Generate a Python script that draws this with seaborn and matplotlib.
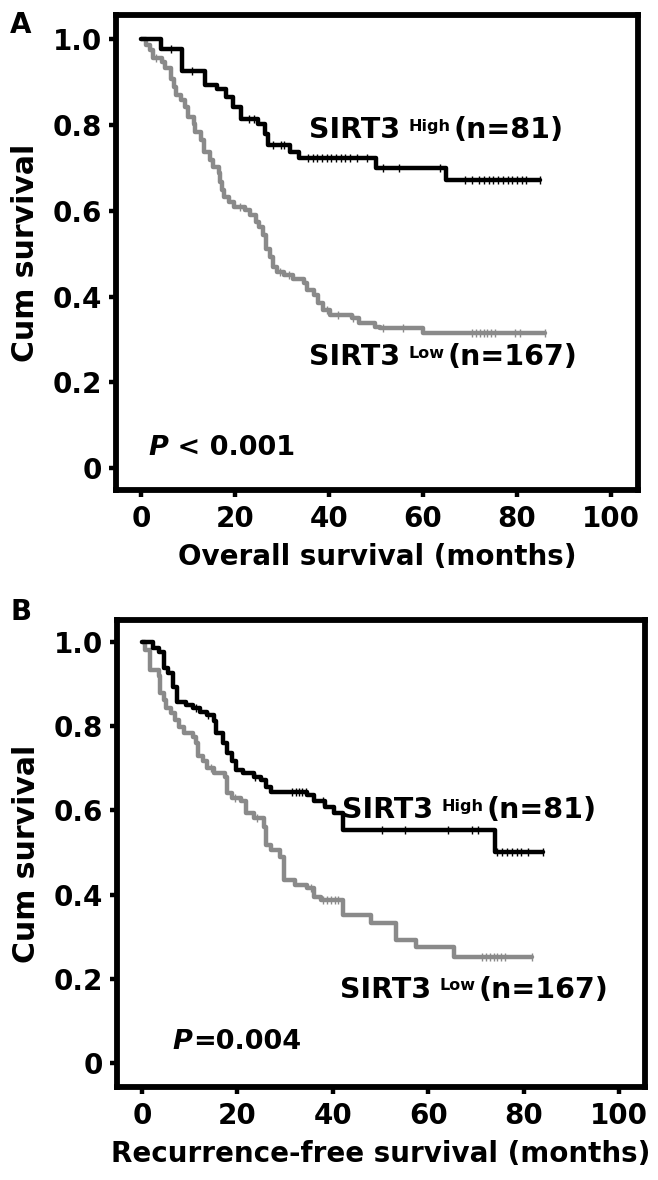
import matplotlib
matplotlib.use("Agg")
import matplotlib.pyplot as plt
import seaborn as sns
import numpy as np

# ---- panel A: overall survival ----
os_high_t = [0, 4.3, 8.7, 13.6, 16.2, 18.1, 19.5, 21.2, 25.0, 26.5, 27.0, 31.8, 33.6, 50.0, 65.0, 85.0]
os_high_s = [1.0, 0.976, 0.925, 0.893, 0.883, 0.866, 0.842, 0.815, 0.803, 0.780, 0.753, 0.737, 0.722, 0.699, 0.671, 0.671]
os_high_cens = [6.4, 10.9, 23.0, 24.0, 28.2, 29.7, 30.5, 35.5, 36.5, 37.5, 38.5, 39.5, 40.5, 41.5, 42.5,
                43.5, 44.5, 46.0, 48.0, 51.6, 55.0, 63.7, 69.0, 70.5, 72.0, 73.0, 74.0, 75.0, 76.0, 77.0,
                78.0, 79.0, 80.0, 81.0, 82.0, 84.8]

os_low_t = [0, 1.1, 1.9, 2.6, 4.5, 5.2, 6.4, 7.1, 7.5, 8.6, 9.4, 10.1, 11.3, 11.6, 12.8, 13.5, 14.7, 15.4,
            16.6, 16.9, 17.3, 17.7, 18.8, 19.9, 22.2, 23.3, 24.5, 25.2, 25.9, 26.7, 27.5, 28.2, 29.0, 30.5,
            32.4, 34.6, 35.4, 36.9, 37.7, 38.8, 40.3, 44.8, 46.3, 49.7, 50.9, 59.9, 85.9]
os_low_s = [1.0, 0.986, 0.974, 0.955, 0.947, 0.932, 0.908, 0.889, 0.869, 0.858, 0.842, 0.819, 0.803, 0.784,
            0.765, 0.737, 0.718, 0.702, 0.687, 0.667, 0.648, 0.632, 0.621, 0.609, 0.601, 0.590, 0.574, 0.562,
            0.543, 0.512, 0.493, 0.469, 0.458, 0.450, 0.442, 0.431, 0.415, 0.403, 0.384, 0.368, 0.357, 0.349,
            0.339, 0.329, 0.326, 0.314, 0.314]
os_low_cens = [3.2, 21.0, 29.6, 31.4, 39.5, 42.0, 45.2, 51.6, 55.8, 70.5, 71.3, 72.1, 72.9, 73.7, 74.5,
               75.3, 79.5, 80.7, 85.9]

# ---- panel B: recurrence-free survival ----
rfs_high_t = [0, 2.4, 3.5, 4.7, 5.4, 6.5, 7.3, 9.2, 10.7, 12.2, 13.7, 15.2, 15.5, 17.0, 17.8, 18.9, 19.7,
              21.2, 23.4, 24.9, 26.0, 27.1, 34.6, 36.1, 38.4, 40.2, 42.1, 73.9, 84.0]
rfs_high_s = [1.0, 0.985, 0.975, 0.937, 0.926, 0.894, 0.858, 0.850, 0.842, 0.834, 0.827, 0.811, 0.783,
              0.759, 0.736, 0.716, 0.696, 0.688, 0.680, 0.672, 0.656, 0.644, 0.637, 0.621, 0.609, 0.593,
              0.553, 0.502, 0.502]
rfs_high_cens = [11.4, 13.9, 23.8, 31.5, 32.2, 32.9, 33.6, 34.3, 38.0, 50.3, 55.2, 64.1, 69.1, 70.5,
                 74.5, 75.5, 76.5, 77.5, 78.5, 79.5, 81.0, 84.0]

rfs_low_t = [0, 0.6, 1.7, 3.5, 3.9, 4.7, 5.0, 6.2, 6.9, 7.7, 8.8, 10.7, 11.4, 11.8, 12.9, 13.7, 15.2, 17.4,
             17.8, 18.9, 20.8, 21.9, 23.4, 25.6, 26.0, 27.1, 29.0, 29.8, 32.0, 34.6, 36.1, 37.6, 42.1, 48.1,
             53.3, 57.5, 65.3, 81.8]
rfs_low_s = [1.0, 0.981, 0.933, 0.918, 0.878, 0.862, 0.842, 0.831, 0.815, 0.799, 0.783, 0.775, 0.759, 0.728,
             0.716, 0.700, 0.688, 0.680, 0.641, 0.629, 0.621, 0.593, 0.581, 0.561, 0.518, 0.506, 0.490,
             0.435, 0.423, 0.415, 0.395, 0.387, 0.352, 0.332, 0.292, 0.276, 0.252, 0.252]
rfs_low_cens = [14.4, 19.6, 24.1, 35.4, 38.0, 38.8, 39.6, 40.4, 41.2, 71.3, 72.1, 72.9, 73.7, 74.5,
                75.3, 76.1, 81.8]

x_ticks = [0, 20, 40, 60, 80, 100]
y_ticks = [0, 0.2, 0.4, 0.6, 0.8, 1.0]
y_ticklabels = ["0", "0.2", "0.4", "0.6", "0.8", "1.0"]

BLACK = "#000000"
GREY = "#8a8a8a"

sns.set_theme(style="ticks")
# the printed figure is a wide, heavy sans; DejaVu bold is the closest in proportions
plt.rcParams["font.family"] = ["DejaVu Sans"]
plt.rcParams["font.weight"] = "bold"
plt.rcParams["text.color"] = "black"
plt.rcParams["axes.labelcolor"] = "black"
plt.rcParams["xtick.color"] = "black"
plt.rcParams["ytick.color"] = "black"

ANN = 20.5  # group label size


def step_at(t, times, surv):
    idx = np.searchsorted(times, t, side="right") - 1
    return np.array(surv)[np.clip(idx, 0, len(surv) - 1)]


def km_curve(ax, times, surv, cens, color):
    sns.lineplot(x=times, y=surv, ax=ax, color=color, linewidth=3.2,
                 drawstyle="steps-post", estimator=None, sort=False)
    sns.scatterplot(x=cens, y=step_at(np.array(cens), times, surv), ax=ax,
                    marker="|", s=28, color=color, linewidth=1.0, zorder=3)


def group_label(ax, x, y, grp, n):
    t1 = ax.text(x, y, "SIRT3", fontsize=ANN, fontweight="bold", va="bottom")
    t2 = ax.annotate(grp, xy=(1, 1), xycoords=t1, xytext=(6, -2),
                     textcoords="offset points", fontsize=11.5, fontweight="bold",
                     va="top", ha="left")
    ax.annotate(f"(n={n})", xy=(1, 0), xycoords=(t2, t1), xytext=(2, 0),
                textcoords="offset points", fontsize=ANN, fontweight="bold",
                va="bottom", ha="left")


def p_label(ax, x, y, rest):
    t = ax.text(x, y, "P", fontsize=19.5, fontweight="bold", style="italic", va="bottom")
    ax.annotate(rest, xy=(1, 0), xycoords=t, xytext=(0, 0), textcoords="offset points",
                fontsize=19.5, fontweight="bold", va="bottom", ha="left")


def style_axes(ax, xlim, ylim, xlabel):
    ax.set_xlim(*xlim)
    ax.set_ylim(*ylim)
    ax.set_xticks(x_ticks)
    ax.set_yticks(y_ticks)
    ax.set_yticklabels(y_ticklabels)
    ax.tick_params(direction="out", length=5, width=3.2, labelsize=20)
    ax.tick_params(axis="x", pad=6)
    ax.tick_params(axis="y", pad=5)
    for lab in ax.get_xticklabels() + ax.get_yticklabels():
        lab.set_fontweight("bold")
    for sp in ax.spines.values():
        sp.set_visible(True)
        sp.set_linewidth(4.2)
        sp.set_color("black")
    ax.set_xlabel(xlabel, fontsize=20, fontweight="bold", labelpad=7)
    ax.set_ylabel("Cum survival", fontsize=21.5, fontweight="bold", labelpad=9)


fig = plt.figure(figsize=(6.58, 11.8), dpi=100)

ax1 = fig.add_axes([0.1763, 0.5847, 0.793, 0.4025])
km_curve(ax1, os_low_t, os_low_s, os_low_cens, GREY)
km_curve(ax1, os_high_t, os_high_s, os_high_cens, BLACK)
style_axes(ax1, (-5.3, 105.7), (-0.051, 1.056), "Overall survival (months)")
group_label(ax1, 35.8, 0.756, "High", 81)
group_label(ax1, 35.8, 0.226, "Low", 167)
p_label(ax1, 1.6, 0.016, " < 0.001")

ax2 = fig.add_axes([0.1778, 0.0788, 0.8024, 0.3958])
km_curve(ax2, rfs_low_t, rfs_low_s, rfs_low_cens, GREY)
km_curve(ax2, rfs_high_t, rfs_high_s, rfs_high_cens, BLACK)
style_axes(ax2, (-5.2, 105.4), (-0.057, 1.052), "Recurrence-free survival (months)")
group_label(ax2, 42.0, 0.568, "High", 81)
group_label(ax2, 41.6, 0.141, "Low", 167)
p_label(ax2, 6.5, 0.02, "=0.004")

fig.text(0.032, 0.979, "A", fontsize=20, fontweight="bold", ha="center", va="center")
fig.text(0.032, 0.4814, "B", fontsize=20, fontweight="bold", ha="center", va="center")

fig.savefig("out.png", dpi=100)
